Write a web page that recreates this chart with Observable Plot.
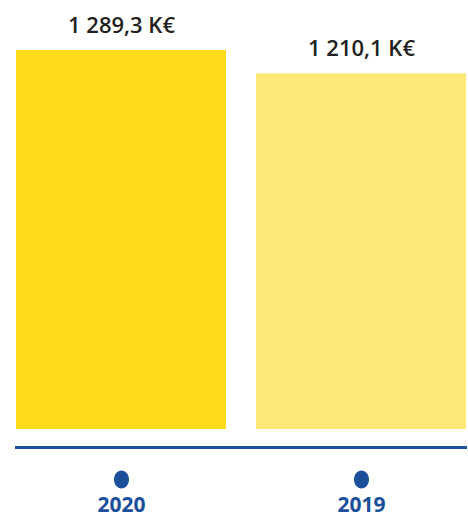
<!DOCTYPE html>
<html>
<head>
<meta charset="utf-8">
<script src="https://cdn.jsdelivr.net/npm/d3@7"></script>
<script src="https://cdn.jsdelivr.net/npm/@observablehq/plot@0.6"></script>
<style>
  html, body { margin: 0; padding: 0; background: #fff; }
</style>
</head>
<body>
<div id="chart"></div>
<script>
const years = ["2020", "2019"];
const values = [1289.3, 1210.1];
const labels = ["1 289,3 K€", "1 210,1 K€"];
const colors = ["#FEDC1A", "#FEE978"];

const data = years.map((y, i) => ({year: y, value: values[i], label: labels[i], color: colors[i]}));

const blue = "#1B4F9B";
const ellipse = {
  draw(context) {
    const rx = 7.5, ry = 9, k = 0.5523;
    context.moveTo(0, -ry);
    context.bezierCurveTo(rx * k, -ry, rx, -ry * k, rx, 0);
    context.bezierCurveTo(rx, ry * k, rx * k, ry, 0, ry);
    context.bezierCurveTo(-rx * k, ry, -rx, ry * k, -rx, 0);
    context.bezierCurveTo(-rx, -ry * k, -rx * k, -ry, 0, -ry);
    context.closePath();
  }
};

const chart = Plot.plot({
  width: 468,
  height: 517,
  marginTop: 50,
  marginBottom: 88,
  marginLeft: 15,
  marginRight: 1,
  style: {fontFamily: "'Open Sans', sans-serif", background: "#fff"},
  x: {domain: years, axis: null, paddingInner: 0.124, paddingOuter: 0},
  y: {domain: [0, 1289.3], axis: null},
  marks: [
    Plot.barY(data, {x: "year", y: "value", fill: "color"}),
    Plot.ruleY([0], {dy: 18, stroke: blue, strokeWidth: 3}),
    Plot.dot(data, {x: "year", y: () => 0, dy: 50, symbol: ellipse, fill: blue, stroke: "none"}),
    Plot.text(data, {x: "year", y: () => 0, dy: 82, text: "year", lineAnchor: "bottom", fill: blue, fontSize: 21, fontWeight: 700}),
    Plot.text(data, {x: "year", y: "value", dy: -18, text: "label", lineAnchor: "bottom", fill: "#231F20", fontSize: 22, fontWeight: 600})
  ]
});
document.getElementById("chart").appendChild(chart);
</script>
</body>
</html>
